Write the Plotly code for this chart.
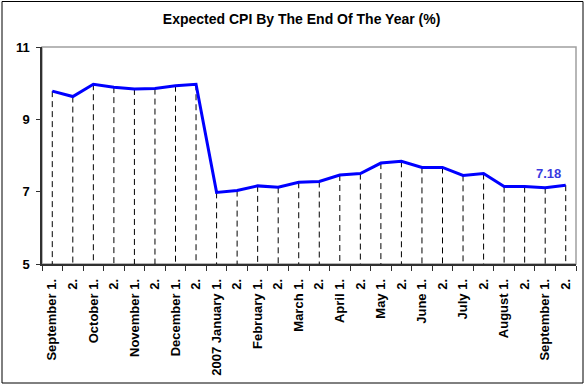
import plotly.graph_objects as go

categories = ["September 1.", "2.", "October 1.", "2.", "November 1.", "2.",
              "December 1.", "2.", "2007 January 1.", "2.", "February 1.", "2.",
              "March 1.", "2.", "April 1.", "2.", "May 1.", "2.", "June 1.", "2.",
              "July 1.", "2.", "August 1.", "2.", "September 1.", "2."]
cpi = [9.78, 9.63, 9.97, 9.89, 9.84, 9.85, 9.93, 9.97, 6.98, 7.03, 7.16, 7.12,
       7.26, 7.28, 7.46, 7.50, 7.79, 7.84, 7.67, 7.67, 7.45, 7.50, 7.14, 7.14,
       7.11, 7.18]
y_ticks = [5, 7, 9, 11]
y_min, y_max = 5, 11
last_label = "7.18"

idx = list(range(len(categories)))

drop_x, drop_y = [], []
for i, v in zip(idx, cpi):
    drop_x += [i, i, None]
    drop_y += [v, y_min, None]

FONT = "Arial, Liberation Sans, sans-serif"

fig = go.Figure()
fig.add_trace(go.Scatter(x=drop_x, y=drop_y, mode="lines",
                         line=dict(color="black", width=1, dash="6px,4px"),
                         hoverinfo="skip", showlegend=False))
fig.add_trace(go.Scatter(x=idx, y=cpi, mode="lines",
                         line=dict(color="#0000ff", width=3),
                         showlegend=False))

fig.add_annotation(x=idx[-1], y=cpi[-1], text="<b>" + last_label + "</b>",
                   showarrow=False, xanchor="right", yanchor="bottom",
                   xshift=-3, yshift=2,
                   font=dict(family=FONT, size=13, color="#3a3adf"))

L, R, T, B = 42, 9, 47, 121
W, H = 585, 385
pw, ph = W - L - R, H - T - B

# plot area border (gray top/right)
fig.add_shape(type="rect", xref="paper", yref="paper", x0=0, x1=1, y0=0, y1=1,
              line=dict(color="#a0a0a0", width=1.5), layer="below")
# outer chart border
fig.add_shape(type="rect", xref="paper", yref="paper",
              x0=(2 - L) / pw, x1=(583 - L) / pw,
              y0=(H - B - 383) / ph, y1=(H - B - 1.5) / ph,
              line=dict(color="black", width=1))

fig.update_layout(
    width=W, height=H,
    margin=dict(l=L, r=R, t=T, b=B),
    paper_bgcolor="white", plot_bgcolor="white",
    title=dict(text="<b>Expected CPI By The End Of The Year (%)</b>",
               x=301.6 / W, xanchor="center", y=1 - 19 / H, yanchor="middle",
               font=dict(family=FONT, size=14, color="black")),
    font=dict(family=FONT, color="black"),
)
fig.update_xaxes(range=[-0.5, len(categories) - 0.5],
                 tickmode="array", tickvals=idx, ticktext=categories,
                 tickangle=-90, ticks="", ticklabelstandoff=8,
                 tickfont=dict(family=FONT, size=13, weight="bold", color="black"),
                 showgrid=False, zeroline=False,
                 showline=True, linecolor="#303030", linewidth=1.5,
                 minor=dict(ticks="outside", tick0=-0.5, dtick=1, ticklen=5,
                            tickwidth=1.2, tickcolor="#303030", showgrid=False))
fig.update_yaxes(range=[y_min, y_max], tickmode="array", tickvals=y_ticks,
                 ticks="outside", ticklen=4, tickcolor="#303030",
                 ticklabelstandoff=4,
                 tickfont=dict(family=FONT, size=13, weight="bold", color="black"),
                 showgrid=False, zeroline=False,
                 showline=True, linecolor="#303030", linewidth=1.5)

fig.write_html("out.html")
